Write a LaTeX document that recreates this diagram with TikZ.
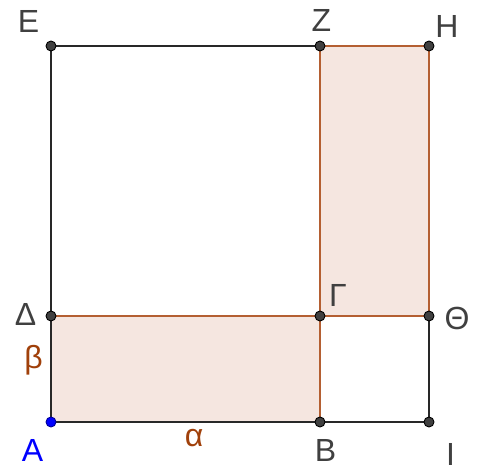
\documentclass[tikz,border=0pt]{standalone}
\usepackage{fontspec}
\setmainfont{Liberation Sans}
\begin{document}
\begin{tikzpicture}[x=1pt,y=-1pt,
  pt/.style={circle,fill=black!75,draw=black,line width=0.9pt,inner sep=0pt,minimum size=10pt},
  lbl/.style={text=black!75,font=\fontsize{32}{32}\selectfont,inner sep=0pt},
  blbl/.style={text={rgb,255:red,160;green,64;blue,10},font=\fontsize{32}{32}\selectfont,inner sep=0pt},
  bk/.style={draw={rgb,255:red,40;green,40;blue,40},line width=1.6pt},
  br/.style={draw={rgb,255:red,180;green,95;blue,50},line width=1.6pt},
  ]
\useasboundingbox (0,0) rectangle (479,465);
\definecolor{fillc}{RGB}{245,230,224}
\coordinate (A) at (51,422);
\coordinate (B) at (320,422);
\coordinate (I) at (429,422);
\coordinate (D) at (51,316);
\coordinate (G) at (320,316);
\coordinate (T) at (429,316);
\coordinate (E) at (51,46);
\coordinate (Z) at (320,46);
\coordinate (H) at (429,46);
\fill[fillc] (A) rectangle (G);
\fill[fillc] (G) rectangle (H);
\draw[br] (D) -- (G) -- (T) -- (H) -- (Z) -- (G) -- (B);
\draw[bk] (Z) -- (E) -- (D) -- (A) -- (B) -- (I) -- (T);
\foreach \p in {B,I,D,G,T,E,Z,H} \node[pt] at (\p) {};
\node[pt,fill=blue,draw=blue!60!black] at (A) {};
\node[lbl] at (28.5,21) {E};
\node[lbl] at (321.5,20.5) {Z};
\node[lbl] at (447,26) {H};
\node[lbl] at (25.5,314.5) {Δ};
\node[lbl] at (338,295) {Γ};
\node[lbl] at (457,318) {Θ};
\node[lbl,text=blue] at (32.5,450) {A};
\node[lbl] at (325.5,450) {B};
\node[lbl] at (450.5,454) {I};
\node[blbl] at (33.5,360) {β};
\node[blbl] at (194,438.5) {α};
\end{tikzpicture}
\end{document}
